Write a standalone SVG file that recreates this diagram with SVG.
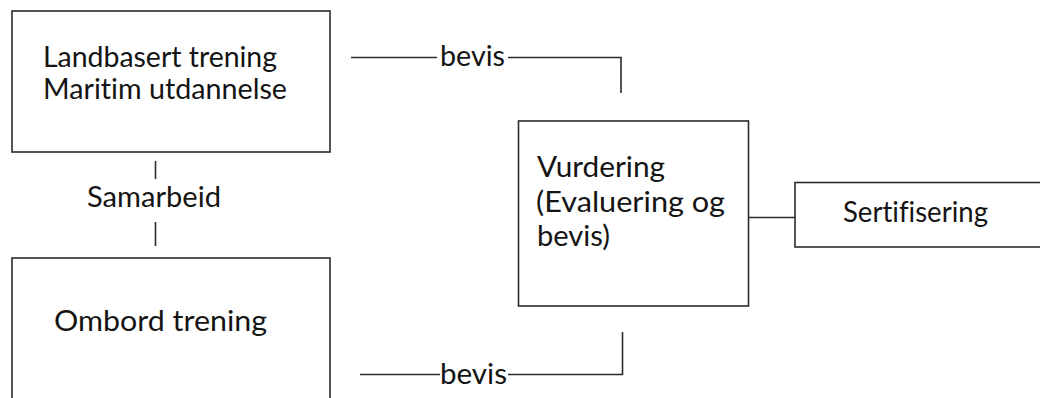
<svg xmlns="http://www.w3.org/2000/svg" width="1040" height="398" viewBox="0 0 1040 398">
<style>
.box{fill:#fff;stroke:#2b2b2b;stroke-width:1.6}
.ln{fill:none;stroke:#2b2b2b;stroke-width:1.6}
text{font-family:Lato,"Open Sans",sans-serif;font-size:28px;fill:#141414;font-variant-ligatures:none}
</style>
<rect width="1040" height="398" fill="#fff"/>
<g id="connectors">
<path class="ln" d="M155.5 161V179M155.5 222V246"/>
<path class="ln" d="M351 57.5H437M508 57.5H621V93"/>
<path class="ln" d="M360 374.5H440M508 374.5H622.5V332"/>
<path class="ln" d="M748.5 217.5H795"/>
<text x="87" y="207" textLength="134" lengthAdjust="spacingAndGlyphs">Samarbeid</text>
<text x="440" y="66" textLength="65" lengthAdjust="spacingAndGlyphs">bevis</text>
<text x="440" y="384" textLength="67" lengthAdjust="spacingAndGlyphs">bevis</text>
</g>
<g id="landbasert">
<rect class="box" x="12" y="11" width="318" height="141"/>
<text x="43" y="67" textLength="234" lengthAdjust="spacingAndGlyphs">Landbasert trening</text>
<text x="43" y="99" textLength="244" lengthAdjust="spacingAndGlyphs">Maritim utdannelse</text>
</g>
<g id="ombord">
<rect class="box" x="12" y="258" width="318" height="160"/>
<text x="54" y="331" textLength="213" lengthAdjust="spacingAndGlyphs">Ombord trening</text>
</g>
<g id="vurdering">
<rect class="box" x="518.5" y="121" width="230" height="185"/>
<text x="537" y="177" textLength="128" lengthAdjust="spacingAndGlyphs">Vurdering</text>
<text x="536" y="212" textLength="189" lengthAdjust="spacingAndGlyphs">(Evaluering og</text>
<text x="537" y="246" textLength="73" lengthAdjust="spacingAndGlyphs">bevis)</text>
</g>
<g id="sertifisering">
<rect class="box" x="795" y="182.5" width="260" height="64.5"/>
<text x="843" y="222" textLength="145" lengthAdjust="spacingAndGlyphs">Sertifisering</text>
</g>
</svg>
